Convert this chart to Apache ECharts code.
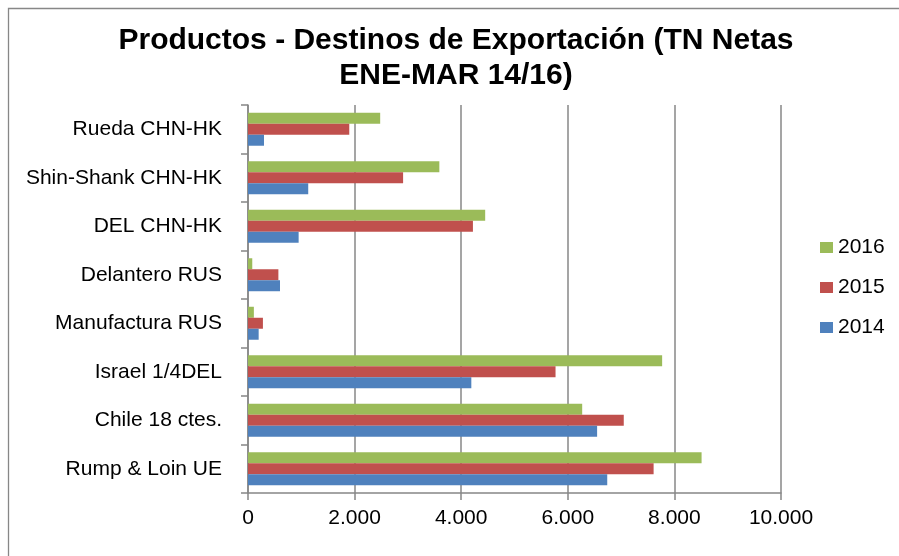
<!DOCTYPE html>
<html>
<head>
<meta charset="utf-8">
<script src="https://cdn.jsdelivr.net/npm/echarts@6/dist/echarts.min.js"></script>
<style>
  html, body { margin: 0; padding: 0; background: #fff; }
  #main { width: 899px; height: 556px; }
</style>
</head>
<body>
<div id="main"></div>
<script>
var categories = ['Rump & Loin UE', 'Chile 18 ctes.', 'Israel 1/4DEL', 'Manufactura RUS',
                  'Delantero RUS', 'DEL CHN-HK', 'Shin-Shank CHN-HK', 'Rueda CHN-HK'];
var values2014 = [6740, 6550, 4190, 200, 600, 950, 1130, 300];
var values2015 = [7610, 7050, 5770, 280, 570, 4220, 2910, 1900];
var values2016 = [8510, 6270, 7770, 110, 80, 4450, 3590, 2480];
var xTicks = [0, 2000, 4000, 6000, 8000, 10000];

var myChart = echarts.init(document.getElementById('main'));
var fontName = 'Liberation Sans';
var gris = '#878787';

function miles(v) {   // 2000 -> "2.000"
  return String(v).replace(/\B(?=(\d{3})+(?!\d))/g, '.');
}

var option = {
  animation: false,
  backgroundColor: '#fff',
  title: {
    text: 'Productos - Destinos de Exportación (TN Netas\nENE-MAR 14/16)',
    left: 451,
    textAlign: 'center',
    top: 18,
    textStyle: { fontFamily: fontName, fontWeight: 'bold', fontSize: 30, lineHeight: 35, color: '#000' }
  },
  legend: {
    data: ['2016', '2015', '2014'],
    orient: 'vertical',
    left: 815,
    top: 232,
    icon: 'rect',
    itemWidth: 13,
    itemHeight: 11,
    itemGap: 19,
    textStyle: { fontFamily: fontName, fontSize: 21, lineHeight: 21, color: '#000' }
  },
  grid: { left: 248, right: 118, top: 105, bottom: 63, containLabel: false },
  xAxis: {
    type: 'value',
    min: xTicks[0],
    max: xTicks[xTicks.length - 1],
    interval: xTicks[1] - xTicks[0],
    axisLine: { show: true, lineStyle: { color: gris, width: 1.5 } },
    axisTick: { show: true, length: 7, lineStyle: { color: gris, width: 1.5 } },
    splitLine: { show: true, lineStyle: { color: gris, width: 1.5 } },
    axisLabel: { fontFamily: fontName, fontSize: 21, color: '#000', margin: 15, formatter: miles }
  },
  yAxis: {
    type: 'category',
    data: categories,
    axisLine: { show: true, lineStyle: { color: gris, width: 1.5 } },
    axisTick: { show: true, length: 7, lineStyle: { color: gris, width: 1.5 } },
    axisLabel: { fontFamily: fontName, fontSize: 21, color: '#000', margin: 26 }
  },
  // en horizontal la primera serie queda arriba: 2016 arriba, 2014 abajo
  series: [
    { name: '2016', type: 'bar', data: values2016, itemStyle: { color: '#9BBB59' }, barGap: '0%', barCategoryGap: '32%' },
    { name: '2015', type: 'bar', data: values2015, itemStyle: { color: '#C0504D' } },
    { name: '2014', type: 'bar', data: values2014, itemStyle: { color: '#4F81BD' } }
  ],
  graphic: [{
    type: 'rect',
    shape: { x: 8.5, y: 8.5, width: 1000, height: 1000 },
    style: { fill: null, stroke: gris, lineWidth: 1.3 },
    silent: true
  }]
};
myChart.setOption(option);
</script>
</body>
</html>
